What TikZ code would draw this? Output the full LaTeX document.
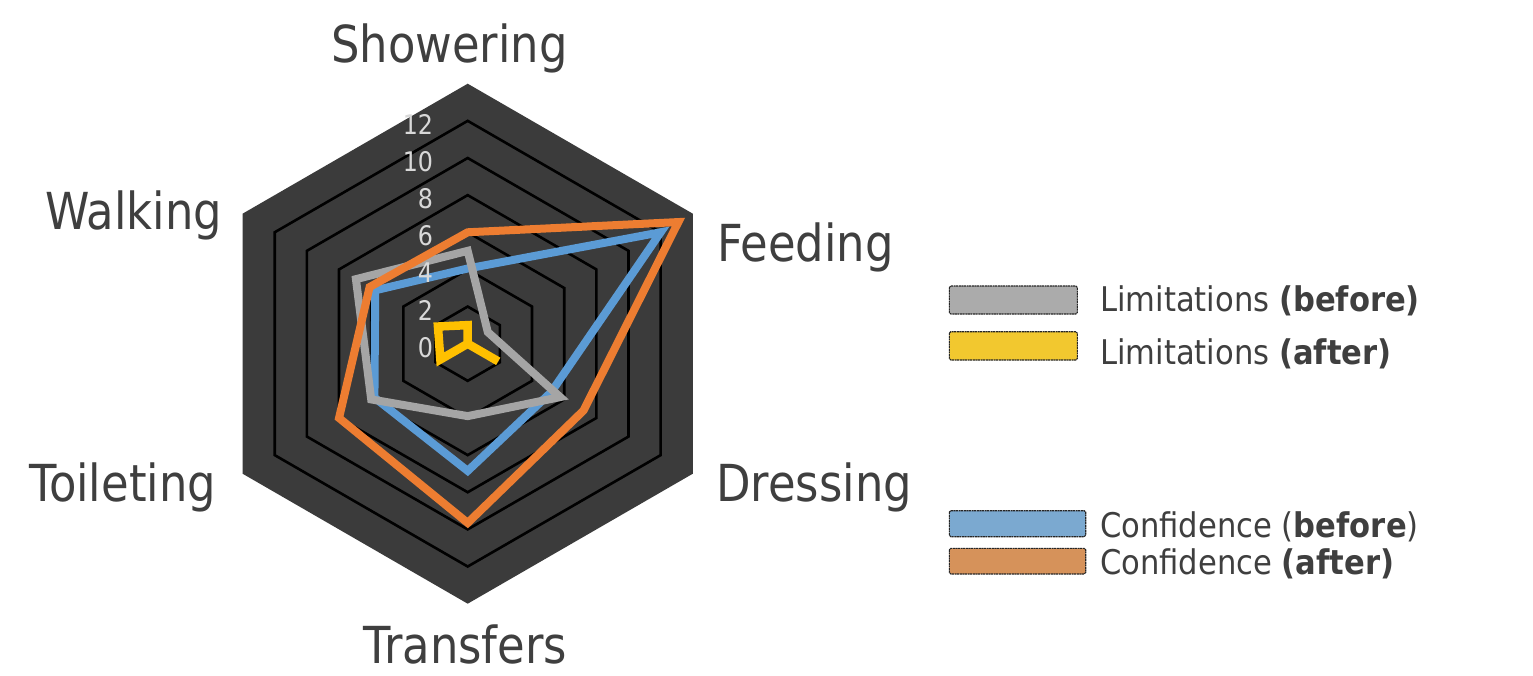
\documentclass[tikz,border=0pt]{standalone}
\usepackage{fontspec}
\setmainfont{DejaVu Sans}
\usetikzlibrary{calc}
\definecolor{txt}{HTML}{3F3F3F}
\definecolor{hexfill}{HTML}{3B3B3B}
\definecolor{numcol}{HTML}{D9D9D9}
\definecolor{sergray}{HTML}{A5A5A5}
\definecolor{seryel}{HTML}{FFC000}
\definecolor{serblue}{HTML}{5B9BD5}
\definecolor{serorange}{HTML}{ED7D31}
\definecolor{leggray}{HTML}{ABABAB}
\definecolor{legyel}{HTML}{F2C82F}
\definecolor{legblue}{HTML}{7BA9D0}
\definecolor{legorange}{HTML}{D6925A}
\newcommand{\sqz}[1]{\scalebox{0.88}[1]{#1}}
\newcommand{\sqy}[1]{\scalebox{0.9}[1]{#1}}
\newcommand{\sqn}[1]{\scalebox{0.88}[1]{#1}}
\begin{document}
\begin{tikzpicture}[x=1pt,y=1pt,
  axlabel/.style={anchor=base west, inner sep=0pt, text=txt, font=\fontsize{51}{60}\selectfont},
  leglabel/.style={anchor=base west, inner sep=0pt, text=txt, font=\fontsize{34}{40}\selectfont},
  numlabel/.style={anchor=east, inner sep=0pt, text=numcol, font=\fontsize{27}{32}\selectfont},
  legbox/.style={draw=black!85, line width=1.1pt, dash pattern=on 2pt off 0.6pt, rounded corners=1.5pt},
  ringline/.style={draw=black, line width=2.6pt},
  series/.style={line width=8pt, line join=miter, miter limit=12}
]
\useasboundingbox (0,0) rectangle (1533,-676);
\fill[white] (0,0) rectangle (1533,-676);
\coordinate (C) at (467.7,-343.7);
\begin{scope}[shift={(C)}, x=18.57pt, y=18.57pt]
  \fill[hexfill] (90:14) -- (30:14) -- (-30:14) -- (-90:14) -- (210:14) -- (150:14) -- cycle;
  \foreach \r in {2,4,...,12}
    \draw[ringline] (90:\r) -- (30:\r) -- (-30:\r) -- (-90:\r) -- (210:\r) -- (150:\r) -- cycle;
  % Confidence (before)
  \draw[series, serblue] (90:4.05) -- (30:12.0) -- (-30:5.2) -- (-90:6.85) -- (210:5.8) -- (150:5.75) -- cycle;
  % Limitations (before)
  \draw[series, sergray] (90:5.0) -- (30:1.25) -- (-30:5.75) -- (-90:3.9) -- (210:6.0) -- (150:6.95) -- cycle;
  % Confidence (after)
  \draw[series, serorange] (90:6.0) -- (30:13.1) -- (-30:7.2) -- (-90:9.65) -- (210:8.0) -- (150:6.1) -- cycle;
  % Limitations (after)
  \draw[series, seryel, line width=8.5pt] (90:1.0) -- (30:0) -- (-30:1.9) -- (-90:0) -- (210:1.7) -- (150:1.85) -- cycle;
\end{scope}
% scale numbers
\node[numlabel] (n0)  at (433.3,-347.2) {\sqn{0}};
\node[numlabel] (n2)  at (433.3,-310.1) {\sqn{2}};
\node[numlabel] (n4)  at (433.3,-272.9) {\sqn{4}};
\node[numlabel] (n6)  at (433.3,-235.8) {\sqn{6}};
\node[numlabel] (n8)  at (433.3,-198.6) {\sqn{8}};
\node[numlabel] (n10) at (433.3,-161.5) {\sqn{10}};
\node[numlabel] (n12) at (433.3,-124.3) {\sqn{12}};
% axis labels
\node[axlabel] (lsh) at (331,-63) {\sqz{Showering}};
\node[axlabel] (lfe) at (717,-261.7) {\sqz{Feeding}};
\node[axlabel] (ldr) at (716,-501.7) {\sqz{Dressing}};
\node[axlabel] (ltr) at (363,-663.3) {\sqz{Transfers}};
\node[axlabel] (lto) at (29,-501.7) {\sqz{Toileting}};
\node[axlabel] (lwa) at (45,-230) {\sqz{Walking}};
% legend
\draw[legbox, fill=leggray] (949.3,-286) rectangle (1077.3,-314);
\draw[legbox, fill=legyel] (949.3,-331.7) rectangle (1077.3,-360);
\draw[legbox, fill=legblue] (949.3,-510.7) rectangle (1085.7,-536.7);
\draw[legbox, fill=legorange] (949.3,-548.3) rectangle (1085.7,-574);
\node[leglabel] (g1) at (1100,-311) {\sqy{Limitations \textbf{(before)}}};
\node[leglabel] (g2) at (1100,-364) {\sqy{Limitations \textbf{(after)}}};
\node[leglabel] (g3) at (1100,-537) {\sqy{Confidence (\textbf{before})}};
\node[leglabel] (g4) at (1100,-574) {\sqy{Confidence \textbf{(after)}}};
\end{tikzpicture}
\end{document}
